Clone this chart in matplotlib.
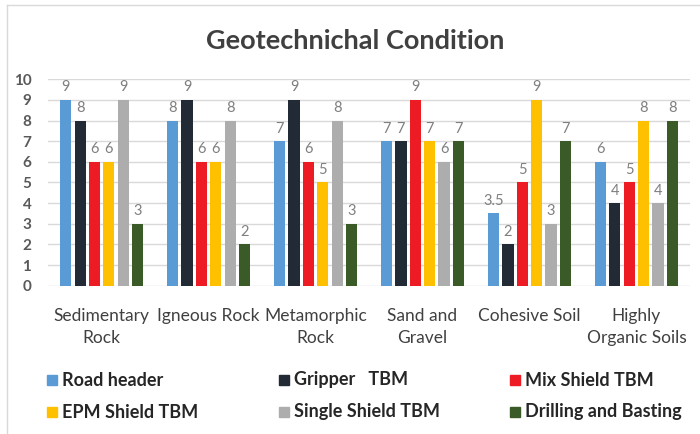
import matplotlib.pyplot as plt
from matplotlib.patches import Rectangle
import numpy as np

plt.rcParams['font.family'] = ['Lato', 'DejaVu Sans']

# categories and series
categories = ['Sedimentary\nRock', 'Igneous Rock', 'Metamorphic\nRock',
              'Sand and\nGravel', 'Cohesive Soil', 'Highly\nOrganic Soils']
road_header = [9, 8, 7, 7, 3.5, 6]
gripper_tbm = [8, 9, 9, 7, 2, 4]
mix_shield = [6, 6, 6, 9, 5, 5]
epm_shield = [6, 6, 5, 7, 9, 8]
single_shield = [9, 8, 8, 6, 3, 4]
drilling = [3, 2, 3, 7, 7, 8]

series = [road_header, gripper_tbm, mix_shield, epm_shield, single_shield, drilling]
names = ['Road header', 'Gripper   TBM', 'Mix Shield TBM',
         'EPM Shield TBM', 'Single Shield TBM', 'Drilling and Basting']
colors = ['#5B9BD5', '#222A35', '#ED1C24', '#FFC000', '#ADADAD', '#3A5A27']

fig = plt.figure(figsize=(7, 4.34), dpi=100)
ax = fig.add_axes([0.0686, 0.3417, 0.9171, 0.4756])

x = np.arange(len(categories))
pitch = 0.134
width = 0.103
for i, (vals, c) in enumerate(zip(series, colors)):
    pos = x + (i - 2.5) * pitch
    ax.bar(pos, vals, width, color=c, zorder=3)
    for p, v in zip(pos, vals):
        ax.annotate('%g' % v, (p, v), xytext=(0, 4), textcoords='offset points',
                    ha='center', va='bottom', fontsize=10.5, color='#7F7F7F')

ax.set_xlim(-0.5, len(categories) - 0.5)
ax.set_ylim(0, 10)
ax.set_yticks(range(11))
ax.yaxis.grid(True, color='#D9D9D9', linewidth=1, zorder=0)
for s in ax.spines.values():
    s.set_visible(False)
ax.tick_params(axis='both', length=0)
ax.tick_params(axis='y', labelsize=11, labelcolor='#595959', pad=12)
for t in ax.get_yticklabels():
    t.set_fontweight('bold')
ax.set_xticks(x)
ax.set_xticklabels(categories, fontsize=12.5, color='#404040', linespacing=1.5)
ax.tick_params(axis='x', pad=16)

fig.text(0.507, 0.905, 'Geotechnichal Condition', ha='center', va='center',
         fontsize=19.5, fontweight='bold', color='#404040')

# legend, laid out row by row like the original
leg_x = [47, 279, 510]
leg_y = [380, 412]
for i, (name, c) in enumerate(zip(names, colors)):
    lx = leg_x[i % 3]
    ly = leg_y[i // 3]
    fig.add_artist(Rectangle((lx / 700, (434 - ly - 5) / 434), 10 / 700, 10 / 434,
                             color=c, transform=fig.transFigure))
    fig.text((lx + 15) / 700, (434 - ly) / 434, name, ha='left', va='center',
             fontsize=13, fontweight='bold', color='#262626')

# thin chart border at top and left
fig.add_artist(plt.Line2D([0.01, 1.0], [0.988, 0.988], color='#D9D9D9', lw=1,
                          transform=fig.transFigure))
fig.add_artist(plt.Line2D([0.01, 0.01], [0.0, 0.988], color='#D9D9D9', lw=1,
                          transform=fig.transFigure))

fig.savefig('out.png', dpi=100)
